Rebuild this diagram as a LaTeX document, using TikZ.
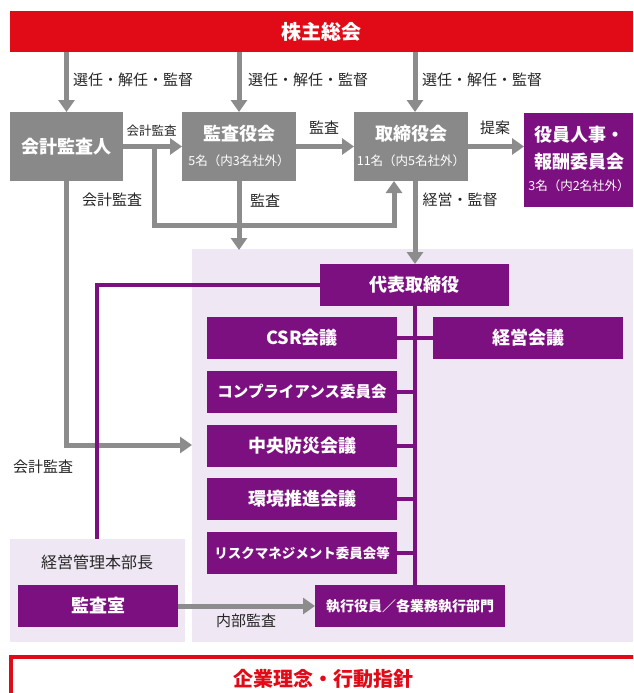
\documentclass[tikz,border=0pt]{standalone}
\usepackage{fontspec}
\setmainfont{Noto Sans CJK JP}
\usetikzlibrary{arrows.meta}
\definecolor{gbox}{HTML}{898989}
\definecolor{garr}{HTML}{8C8C8C}
\definecolor{pur}{HTML}{7D1080}
\definecolor{lpur}{HTML}{EFE7F4}
\definecolor{redA}{HTML}{E10A17}
\definecolor{txt}{HTML}{262626}
\newcommand{\fs}[1]{\fontsize{#1}{#1}\selectfont}
\tikzset{
  bx/.style={inner sep=0pt, outer sep=0pt, anchor=north west, text=white, font=\fs{18}\bfseries},
  gb/.style={bx, fill=gbox},
  pb/.style={bx, fill=pur},
  garrow/.style={draw=garr, line width=5pt, -{Triangle[width=16pt,length=12pt]}},
  gline/.style={draw=garr, line width=5pt},
  pline/.style={draw=pur, line width=4.5pt},
  pconn/.style={draw=pur, line width=3.5pt},
  lbl/.style={inner sep=0pt, text=txt, font=\fs{15}},
  ttl/.style={inner sep=0pt, text=white, font=\fs{18}\bfseries},
  sub/.style={inner sep=0pt, text=white, font=\fs{12.5}}
}
\begin{document}
\begin{tikzpicture}[x=1pt,y=-1pt]
\useasboundingbox (0,0) rectangle (633,693);
\clip (0,0) rectangle (633,693);
\fill[white] (0,0) rectangle (633,693);
% background regions
\node[bx, fill=lpur, minimum width=441pt, minimum height=393pt] (light) at (192,249) {};
\node[bx, fill=lpur, minimum width=175pt, minimum height=103pt] (leftreg) at (10,539) {};
% top bar
\node[bx, fill=redA, minimum width=623pt, minimum height=41pt, font=\fs{20}\bfseries] (soukai) at (10,11) {株主総会};
% row boxes
\node[gb, minimum width=113pt, minimum height=69pt] (kaikei) at (10,112) {会計監査人};
\node[gb, minimum width=114pt, minimum height=69pt] (kansa) at (182,112) {};
\node[ttl] at (239,134) {監査役会};
\node[sub] at (239,161) {5名（内3名社外）};
\node[gb, minimum width=114pt, minimum height=69pt] (tori) at (354,112) {};
\node[ttl] at (411,134) {取締役会};
\node[sub] at (411,161) {11名（内5名社外）};
\node[pb, minimum width=109pt, minimum height=94pt] (yakuin) at (524,113) {};
\node[ttl] at (579,135) {役員人事・};
\node[ttl] at (579,162) {報酬委員会};
\node[sub] at (579,186) {3名（内2名社外）};
% purple boxes
\node[pb, minimum width=189pt, minimum height=42pt] (daihyo) at (320,264) {代表取締役};
\node[pb, minimum width=190pt, minimum height=42pt] (csr) at (207,317) {CSR会議};
\node[pb, minimum width=190pt, minimum height=42pt, font=\fs{15.5}\bfseries] (comp) at (207,371) {コンプライアンス委員会};
\node[pb, minimum width=190pt, minimum height=42pt] (chuo) at (207,425) {中央防災会議};
\node[pb, minimum width=190pt, minimum height=42pt] (kankyo) at (207,478) {環境推進会議};
\node[pb, minimum width=190pt, minimum height=42pt, font=\fs{13.5}\bfseries] (risk) at (207,532) {リスクマネジメント委員会等};
\node[pb, minimum width=190pt, minimum height=42pt] (keiei) at (433,317) {経営会議};
\node[pb, minimum width=160pt, minimum height=42pt] (kshitsu) at (18,585) {監査室};
\node[pb, minimum width=190pt, minimum height=42pt, font=\fs{14}\bfseries] (shikko) at (315,585) {執行役員／各業務執行部門};
% axis coordinates
\coordinate (ax) at (415,0);
\coordinate (br1) at (154,148);
\coordinate (br2) at (394,225);
\coordinate (k3) at (192,445);
\coordinate (p1) at (97,539);
% arrows from top bar
\draw[garrow] (soukai.south -| kaikei.north) -- (kaikei.north);
\draw[garrow] (soukai.south -| kansa.north) -- (kansa.north);
\draw[garrow] (soukai.south -| ax) -- (tori.north -| ax);
% horizontal arrows
\draw[garrow] (kaikei.east) -- (kansa.west);
\draw[garrow] (kansa.east) -- (tori.west);
\draw[garrow] (tori.east) -- (tori.east -| yakuin.west);
% branch to board
\draw[garrow] (br1) |- (br2) -- (br2 |- tori.south);
% downward arrows
\draw[garrow] (kansa.south) -- ([yshift=-1pt]kansa.south |- light.north);
\draw[garrow] (tori.south -| ax) -- (daihyo.north -| ax);
\draw[garrow] (kaikei.south) |- (k3);
% purple lines
\draw[pline] (daihyo.west) -| (p1);
\draw[pline] (daihyo.south -| ax) -- (shikko.north -| ax);
\draw[pconn] (csr.east) -- (csr.east -| ax);
\draw[pconn] (keiei.west) -- (keiei.west -| ax);
\draw[pconn] (comp.east) -- (comp.east -| ax);
\draw[pconn] (chuo.east) -- (chuo.east -| ax);
\draw[pconn] (kankyo.east) -- (kankyo.east -| ax);
\draw[pconn] (risk.east) -- (risk.east -| ax);
% internal audit arrow
\draw[garrow] (kshitsu.east) -- (shikko.west);
% labels
\node[lbl, anchor=west] at (73,80) {選任・解任・監督};
\node[lbl, anchor=west] at (248,80) {選任・解任・監督};
\node[lbl, anchor=west] at (422,80) {選任・解任・監督};
\node[lbl, font=\fs{12.5}] at (151.5,131) {会計監査};
\node[lbl] at (324,128) {監査};
\node[lbl] at (495,128) {提案};
\node[lbl] at (112,200) {会計監査};
\node[lbl] at (265,201) {監査};
\node[lbl] at (460,200) {経営・監督};
\node[lbl] at (43,467) {会計監査};
\node[lbl, font=\fs{16}] at (97,562) {経営管理本部長};
\node[lbl] at (246,621) {内部監査};
% bottom box
\draw[redA, line width=4pt, fill=white] (11,657) rectangle (650,720);
\node[inner sep=0pt, text=redA, font=\fs{20}\bfseries] (rinen) at (323,679) {企業理念・行動指針};
\end{tikzpicture}
\end{document}
